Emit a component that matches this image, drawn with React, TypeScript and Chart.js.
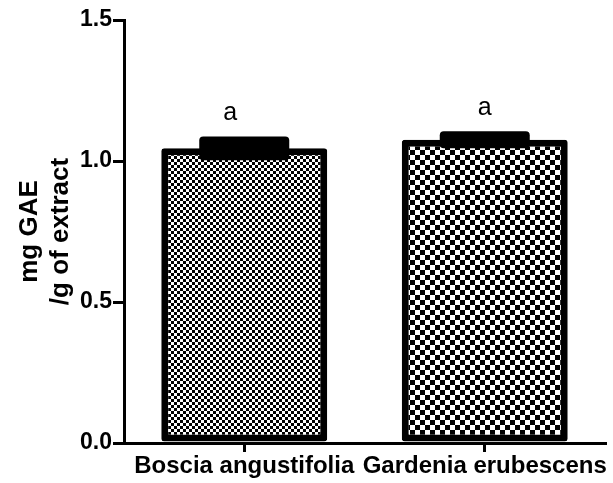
import React, { useEffect, useRef } from "react";
import { Chart, registerables } from "chart.js";

Chart.register(...registerables);

const categories = ["Boscia angustifolia", "Gardenia erubescens"];
const values = [1.045, 1.075];
const errors = [0.028, 0.016];
const letters = ["a", "a"];
const yTicks = [0, 0.5, 1.0, 1.5];
const yTitle = ["mg GAE", "/g of extract"];

const FONT = "'Liberation Sans', Arial, sans-serif";

function makeChecker(cell: number): CanvasPattern | string {
  const c = document.createElement("canvas");
  c.width = cell * 2;
  c.height = cell * 2;
  const g = c.getContext("2d");
  if (!g) return "#888";
  g.fillStyle = "#ffffff";
  g.fillRect(0, 0, cell * 2, cell * 2);
  g.fillStyle = "#000000";
  g.fillRect(0, 0, cell, cell);
  g.fillRect(cell, cell, cell, cell);
  const p = g.createPattern(c, "repeat");
  return p || "#888";
}

const errorPlugin = {
  id: "errorBarsLetters",
  afterDatasetsDraw(chart: any) {
    const ctx = chart.ctx;
    const meta = chart.getDatasetMeta(0);
    const y = chart.scales.y;
    ctx.save();
    meta.data.forEach((bar: any, i: number) => {
      const cx = bar.x;
      const top = y.getPixelForValue(values[i] + errors[i]) - 4;
      const bot = y.getPixelForValue(values[i] - errors[i]) + 4;
      const w = 90;
      ctx.fillStyle = "#000";
      ctx.beginPath();
      if (ctx.roundRect) {
        ctx.roundRect(cx - w / 2, top, w, bot - top, 4);
      } else {
        ctx.rect(cx - w / 2, top, w, bot - top);
      }
      ctx.fill();
      ctx.font = `25px ${FONT}`;
      ctx.textAlign = "center";
      ctx.textBaseline = "alphabetic";
      ctx.fillText(letters[i], cx - (i === 0 ? 14 : 0), top - 16);
    });
    ctx.restore();
  },
};

export default function App() {
  const ref = useRef<HTMLCanvasElement | null>(null);
  useEffect(() => {
    if (!ref.current) return;
    const chart = new Chart(ref.current, {
      type: "bar",
      data: {
        labels: categories,
        datasets: [
          {
            data: values,
            backgroundColor: [makeChecker(3), makeChecker(5)] as any,
            borderColor: "#000",
            borderWidth: 7,
            borderSkipped: false,
            borderRadius: 3,
            categoryPercentage: 1,
            barPercentage: 0.69,
          },
        ],
      },
      options: {
        responsive: false,
        animation: false,
        layout: { padding: { top: 20, right: 8, left: 0, bottom: 0 } },
        plugins: { legend: { display: false }, tooltip: { enabled: false } },
        scales: {
          x: {
            offset: true,
            grid: {
              offset: false,
              drawOnChartArea: false,
              drawTicks: true,
              tickLength: 9,
              lineWidth: 3,
              color: "#000",
            },
            border: { display: true, color: "#000", width: 3 },
            ticks: {
              color: "#000",
              font: { family: FONT, size: 24, weight: "bold" },
              padding: 0,
              maxRotation: 0,
              autoSkip: false,
            },
            afterFit(scale: any) {
              scale.height = 40;
            },
          },
          y: {
            min: 0,
            max: 1.5,
            afterBuildTicks(scale: any) {
              scale.ticks = yTicks.map((v) => ({ value: v }));
            },
            grid: {
              drawOnChartArea: false,
              drawTicks: true,
              tickLength: 11,
              lineWidth: 3,
              color: "#000",
            },
            border: { display: true, color: "#000", width: 3 },
            ticks: {
              color: "#000",
              font: { family: FONT, size: 23, weight: "bold" },
              padding: 1,
              callback: (v: any) => Number(v).toFixed(1),
            },
            title: {
              display: true,
              text: yTitle,
              color: "#000",
              font: { family: FONT, size: 26, weight: "bold", lineHeight: 1.2 },
              padding: { top: 14, bottom: 4 },
            },
            afterFit(scale: any) {
              scale.width = 124;
            },
          },
        },
      },
      plugins: [errorPlugin],
    });
    return () => chart.destroy();
  }, []);
  return (
    <div style={{ position: "absolute", left: 0, top: 0, width: 613, height: 483, background: "#fff" }}>
      <canvas ref={ref} width={613} height={483} />
    </div>
  );
}
